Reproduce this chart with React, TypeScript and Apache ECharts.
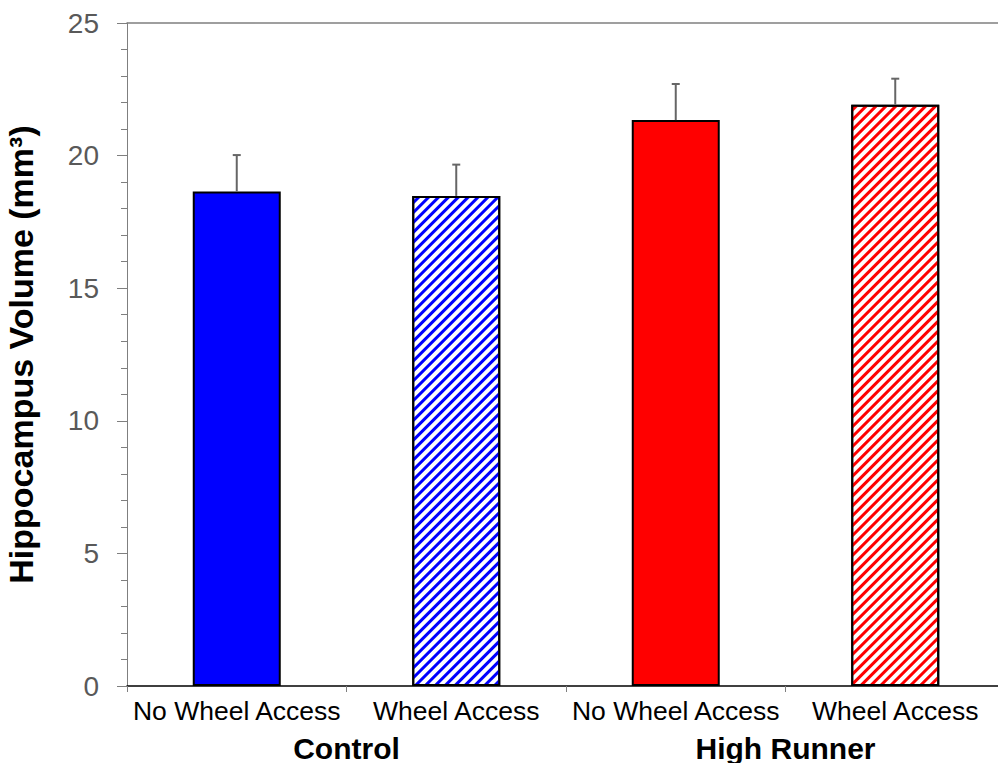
import React, { useEffect, useRef } from "react";
import * as echarts from "echarts";

const categories = ["No Wheel Access", "Wheel Access", "No Wheel Access", "Wheel Access"];
const groups = ["Control", "High Runner"];
const means = [18.65, 18.48, 21.34, 21.92];
const errors = [1.37, 1.18, 1.36, 0.98];
const barColors = ["#0000ff", "#0000ff", "#ff0000", "#ff0000"];
const hatched = [false, true, false, true];

const FONT = "'Liberation Sans', Arial, sans-serif";

export default function App() {
  const ref = useRef<HTMLDivElement>(null);
  useEffect(() => {
    if (!ref.current) return;
    const chart = echarts.init(ref.current, null, { renderer: "svg" });
    const barData = means.map((v, i) => ({
      value: v,
      itemStyle: hatched[i]
        ? {
            color: "#ffffff",
            borderColor: "#000",
            borderWidth: 2,
            decal: {
              symbol: "rect",
              symbolSize: 1,
              color: barColors[i],
              backgroundColor: "#ffffff",
              dashArrayX: [1, 0],
              dashArrayY: [2.1, 3.1],
              rotation: -Math.PI / 4,
            },
          }
        : { color: barColors[i], borderColor: "#000", borderWidth: 2 },
    }));
    const errData = means.map((v, i) => [i, v, errors[i]]);
    chart.setOption({
      animation: false,
      textStyle: { fontFamily: FONT },
      grid: {
        left: 127,
        top: 23,
        width: 878,
        height: 663,
        containLabel: false,
        outerBoundsMode: "none",
      },
      xAxis: [
        {
          type: "category",
          data: categories,
          position: "bottom",
          axisLine: { lineStyle: { color: "#000", width: 1.5 } },
          axisTick: { show: true, length: 6, lineStyle: { color: "#7f7f7f" } },
          axisLabel: { color: "#000", fontSize: 26.5, margin: 11, fontFamily: FONT, interval: 0 },
        },
        {
          type: "category",
          data: groups,
          position: "bottom",
          axisLine: { show: false },
          axisTick: { show: false },
          axisLabel: {
            color: "#000",
            fontSize: 30,
            lineHeight: 30,
            fontWeight: "bold",
            margin: 47,
            fontFamily: FONT,
            interval: 0,
          },
        },
        {
          type: "category",
          data: categories,
          position: "top",
          axisLine: { show: true, lineStyle: { color: "#7f7f7f", width: 1.5 } },
          axisTick: { show: false },
          axisLabel: { show: false },
        },
      ],
      yAxis: {
        type: "value",
        min: 0,
        max: 25,
        interval: 5,
        name: "Hippocampus Volume (mm³)",
        nameLocation: "middle",
        nameGap: 89,
        nameTextStyle: { fontSize: 34, fontWeight: "bold", color: "#000", fontFamily: FONT },
        axisLine: { show: true, lineStyle: { color: "#7f7f7f", width: 1 } },
        axisTick: { show: true, length: 10, lineStyle: { color: "#7f7f7f" } },
        minorTick: { show: true, splitNumber: 5, length: 6, lineStyle: { color: "#7f7f7f" } },
        splitLine: { show: false },
        axisLabel: { color: "#595959", fontSize: 28, margin: 28, fontFamily: FONT },
      },
      series: [
        {
          type: "bar",
          xAxisIndex: 0,
          data: barData,
          barWidth: 88,
          z: 2,
        },
        {
          type: "custom",
          xAxisIndex: 0,
          yAxisIndex: 0,
          z: 3,
          data: errData,
          renderItem: (params: any, api: any) => {
            const x = api.value(0);
            const m = api.value(1);
            const e = api.value(2);
            const p0 = api.coord([x, m]);
            const p1 = api.coord([x, m + e]);
            const style = { stroke: "#666666", lineWidth: 2 };
            return {
              type: "group",
              children: [
                { type: "line", shape: { x1: p0[0], y1: p0[1], x2: p1[0], y2: p1[1] }, style },
                { type: "line", shape: { x1: p1[0] - 4, y1: p1[1], x2: p1[0] + 4, y2: p1[1] }, style },
              ],
            };
          },
        },
      ],
    });
    return () => chart.dispose();
  }, []);
  return (
    <div
      style={{
        position: "fixed",
        left: 0,
        top: 0,
        width: 998,
        height: 763,
        overflow: "hidden",
        background: "#fff",
      }}
    >
      <div ref={ref} style={{ width: 1010, height: 763 }} />
    </div>
  );
}
